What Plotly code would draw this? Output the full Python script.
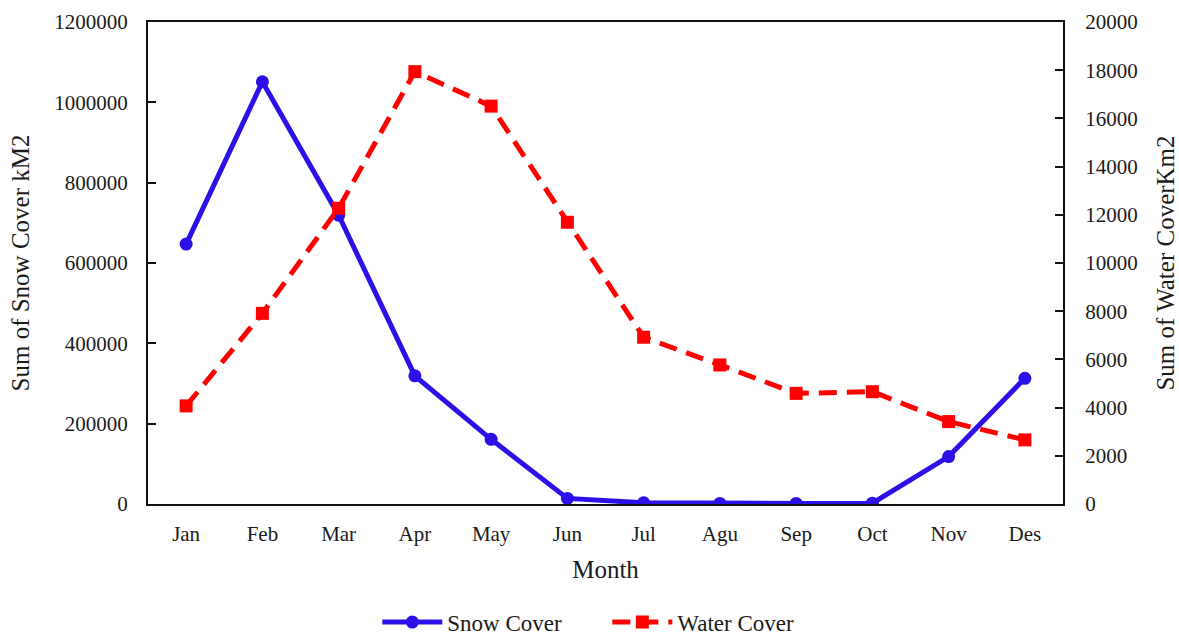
import plotly.graph_objects as go

months = ["Jan", "Feb", "Mar", "Apr", "May", "Jun", "Jul", "Agu", "Sep", "Oct", "Nov", "Des"]
snow_cover = [647000, 1051000, 719000, 319000, 161000, 14000, 3000, 1500, 1500, 2000, 118000, 313000]
water_cover = [4070, 7910, 12270, 17940, 16510, 11690, 6920, 5770, 4590, 4660, 3420, 2660]

font_family = "Liberation Serif, Times New Roman, serif"
blue = "#2B10E8"
red = "#FF0000"

fig = go.Figure()
fig.add_trace(go.Scatter(
    x=months, y=snow_cover, name="Snow Cover", mode="lines+markers",
    line=dict(color=blue, width=5),
    marker=dict(symbol="circle", size=13, color=blue),
    yaxis="y",
))
fig.add_trace(go.Scatter(
    x=months, y=water_cover, name="Water Cover", mode="lines+markers",
    line=dict(color=red, width=5, dash="18px,10px"),
    marker=dict(symbol="square", size=13, color=red),
    yaxis="y2",
))

fig.update_layout(
    width=1179, height=640,
    margin=dict(l=148, r=116, t=22, b=136, autoexpand=False),
    plot_bgcolor="white", paper_bgcolor="white",
    font=dict(family=font_family, size=21, color="#1a1a1a"),
    showlegend=True,
    legend=dict(orientation="h", x=0.502, xanchor="center", y=-0.245, yanchor="middle",
                font=dict(size=23), itemwidth=60, tracegroupgap=0,
                entrywidth=155, entrywidthmode="pixels"),
    xaxis=dict(
        title=dict(text="Month", font=dict(size=25), standoff=15),
        showline=True, linecolor="#111111", linewidth=2, mirror=True,
        ticks="", showgrid=False, range=[-0.5, 11.5], zeroline=False,
        ticklabelstandoff=10,
    ),
    yaxis=dict(
        title=dict(text="Sum of Snow Cover kM2", font=dict(size=25), standoff=18),
        range=[0, 1200000], dtick=200000, tickformat="d",
        showline=True, linecolor="#111111", linewidth=2,
        ticks="inside", ticklen=8, tickwidth=2, tickcolor="#111111",
        showgrid=False, zeroline=False, ticklabelstandoff=14,
    ),
    yaxis2=dict(
        title=dict(text="Sum of Water CoverKm2", font=dict(size=25), standoff=21),
        range=[0, 20000], dtick=2000, tickformat="d",
        overlaying="y", side="right",
        showline=True, linecolor="#111111", linewidth=2,
        ticks="inside", ticklen=8, tickwidth=2, tickcolor="#111111",
        showgrid=False, zeroline=False, ticklabelstandoff=16,
    ),
)

fig.write_html("out.html")
